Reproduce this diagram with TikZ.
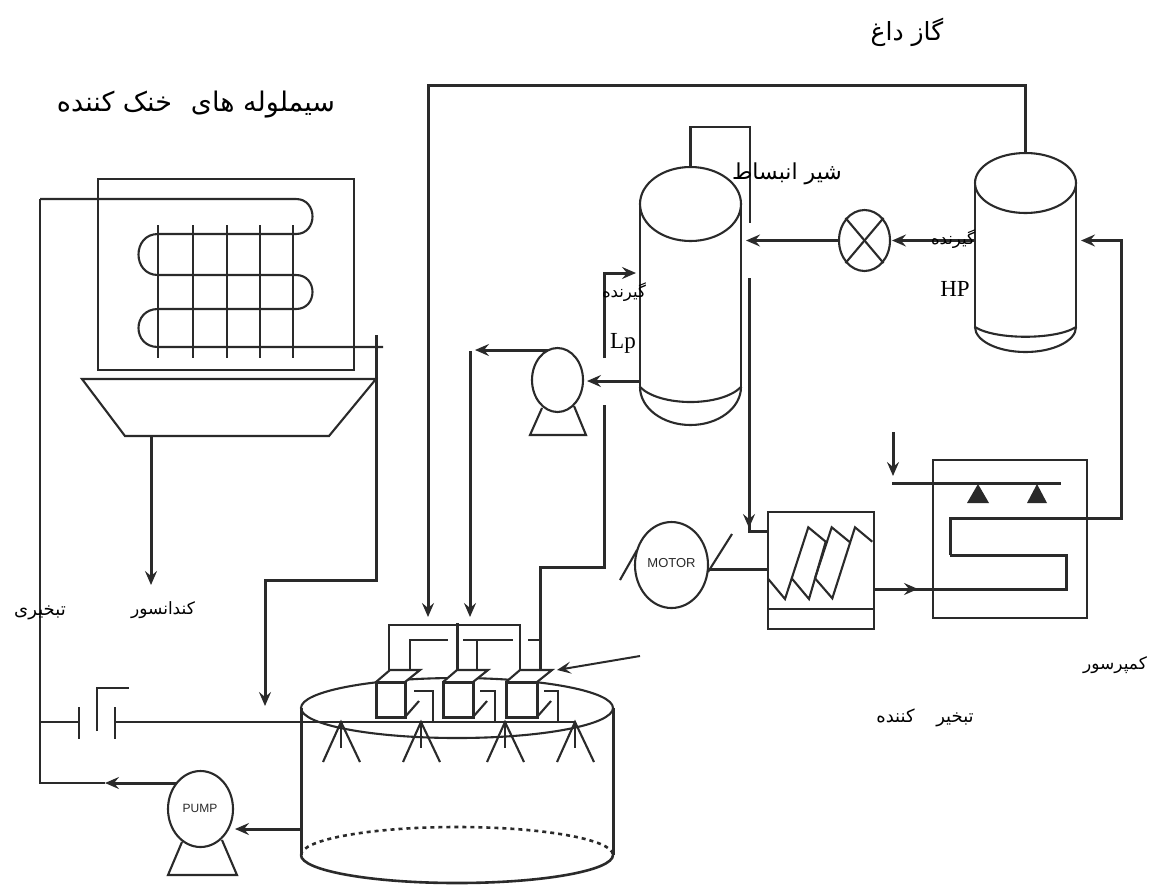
\documentclass[tikz,border=0pt]{standalone}
\usepackage{fontspec}
\usetikzlibrary{arrows.meta,shapes.geometric}
\newfontfamily\arabicfont[Script=Arabic]{DejaVu Sans}
\newfontfamily\latinserif{Liberation Serif}
\newfontfamily\latinsans{Liberation Sans}
\TeXXeTstate=1
\newcommand{\fa}[1]{{\arabicfont\beginR #1\endR}}
\newcommand{\fasize}[1]{\fontsize{#1}{#1}\selectfont}
\definecolor{ink}{HTML}{2A2A2A}
\tikzset{
  thin line/.style={draw=ink,line width=1.7pt},
  wall/.style={draw=ink,line width=2.1pt},
  pipe/.style={draw=ink,line width=3pt},
  flow/.style={pipe,-{Stealth[length=14pt,width=12pt,inset=5pt]}},
  flow small/.style={draw=ink,line width=2pt,-{Stealth[length=14pt,width=12pt,inset=6pt]}},
  round equip/.style={ellipse,draw=ink,line width=2.1pt,fill=white,inner sep=0pt,outer sep=0pt},
  fa label/.style={inner sep=0pt,text=black},
  latin label/.style={inner sep=0pt,font=\latinserif\fontsize{23}{26}\selectfont},
  equip label/.style={inner sep=0pt,font=\latinsans\fontsize{12}{14}\selectfont,text=ink},
}
\begin{document}
\begin{tikzpicture}[x=1pt,y=-1pt,line join=miter]
\useasboundingbox (0,0) rectangle (1150,884);
\fill[white] (0,0) rectangle (1150,884);

% ---- cooling coil box and drip tray
\node[draw=ink,line width=2.1pt,minimum width=256pt,minimum height=191pt,inner sep=0pt,anchor=north west] (coilbox) at (97,178) {};
\foreach \fx in {158,193,227,260,293}{\draw[thin line] (\fx,225) -- (\fx,358);}
\coordinate (coilin) at (40,199);
\coordinate (coilout) at (383,347);
\draw[wall] (coilin) -- (296,199) .. controls (318,199) and (318,234) .. (296,234)
  -- (158,234) .. controls (132,234) and (132,275) .. (158,275)
  -- (296,275) .. controls (318,275) and (318,309) .. (296,309)
  -- (158,309) .. controls (132,309) and (132,347) .. (158,347) -- (coilout);
\draw[wall] (82,379) -- (376,379) -- (329,436) -- (125,436) -- cycle;
\coordinate (trayout) at (151,436);
\coordinate (trayend) at (151,585);
\draw[flow] (trayout) -- (trayend);

% ---- return pipe into tank
\coordinate (retstart) at (376,335);
\coordinate (retend) at (265,706);
\draw[flow] (retstart) -- (376,580) -- (265,580) -- (retend);

% ---- tank
\node[round equip,minimum width=312pt,minimum height=60pt] (tanktop) at (457,708) {};
\coordinate (tankbl) at (301,855);
\coordinate (tankbr) at (613,855);
\draw[pipe] (tanktop.west) -- (tankbl);
\draw[pipe] (tanktop.east) -- (tankbr);
\draw[wall,line width=2.6pt] (tankbl) arc[start angle=180,end angle=0,x radius=156,y radius=28];
\draw[wall,line width=2.6pt,dash pattern=on 4pt off 4pt] (tankbl) arc[start angle=180,end angle=360,x radius=156,y radius=28];

% ---- three nozzle boxes
\foreach \bx/\bw in {376/29,443/30,506/31}{
  \fill[white] (\bx,682) -- (\bx+14,670) -- (\bx+14+\bw+1,670) -- (\bx+\bw,682) -- (\bx+\bw,717) -- (\bx,717) -- cycle;
  \draw[pipe] (\bx,682) rectangle (\bx+\bw,717);
  \draw[wall] (\bx,682) -- (\bx+14,670) -- (\bx+14+\bw+1,670) -- (\bx+\bw,682);
  \draw[wall] (\bx+\bw,717) -- (\bx+\bw+14,701);
}
\coordinate (spray) at (575,722);
\coordinate (capright) at (115,722);
\draw[thin line] (capright) -- (spray);
\draw[wall] (414,691) -- (433,691) -- (433,722);
\draw[wall] (480,691) -- (495,691) -- (495,722);
\draw[wall] (544,691) -- (558,691) -- (558,722);
\draw[wall] (389,670) -- (389,625) -- (520,625) -- (520,670);
\draw[pipe] (457,623) -- (457,670);
\draw[wall] (410,670) -- (410,640) -- (448,640);
\draw[wall] (463,640) -- (513,640);
\draw[wall] (477,640) -- (477,670);
\draw[wall] (528,640) -- (540,640);

% ---- spray heads
\foreach \sx in {341,421,505,575}{
  \draw[wall] (\sx-18,762) -- (\sx,722) -- (\sx+19,762);
  \draw[wall] (\sx,722) -- (\sx,748);
}

% ---- capacitor-like valve on the feed line
\coordinate (feedL) at (40,722);
\coordinate (capleft) at (79,722);
\draw[thin line] (feedL) -- (capleft);
\draw[wall] (79,707) -- (79,739);
\draw[wall] (115,707) -- (115,739);
\draw[wall] (97,731) -- (97,688) -- (129,688);

% ---- tank pump
\node[round equip,minimum width=65pt,minimum height=76pt] (pumpA) at (200.5,809) {};
\node[equip label] (pumpAtxt) at (200,808) {PUMP};
\draw[wall] (182,842) -- (168,875) -- (237,875) -- (222,840);
\coordinate (tankout) at (301,829);
\coordinate (pumpAin) at (235,829);
\draw[flow] (tankout) -- (pumpAin);
\coordinate (pumpAstart) at (176,783);
\coordinate (pumpAarrow) at (105,783);
\draw[flow] (pumpAstart) -- (pumpAarrow);
\draw[wall] (pumpAarrow) -- (40,783) -- (coilin);

% ---- pump of LP receiver
\node[round equip,minimum width=51pt,minimum height=64pt] (pumpB) at (557.5,380) {};
\draw[wall] (542,408) -- (530,435) -- (586,435) -- (574,406);
\coordinate (pumpBstart) at (548,350);
\coordinate (pumpBtip) at (475,350);
\draw[flow] (pumpBstart) -- (pumpBtip);
\coordinate (upL) at (470,351);
\coordinate (upLend) at (470,617);
\draw[flow] (upL) -- (upLend);

% ---- LP receiver
\node[draw=none,minimum width=101pt,minimum height=183pt,inner sep=0pt] (lpbody) at (690.5,295.5) {};
\draw[wall] (lpbody.north west) -- (lpbody.south west);
\draw[wall] (lpbody.north east) -- (lpbody.south east);
\node[round equip,minimum width=101pt,minimum height=74pt] (lpdome) at (690.5,204) {};
\draw[wall] (640,387) .. controls (660,407) and (721,407) .. (741,387);
\draw[wall] (640,387) arc[start angle=180,end angle=0,x radius=50.5,y radius=38];
\coordinate (stubtop) at (750,127);
\coordinate (stubend) at (750,223);
\draw[wall] (lpdome.north) |- (stubtop) -- (stubend);
\coordinate (lpout) at (640,381);
\coordinate (pumpBin) at (587,381);
\draw[flow] (lpout) -- (pumpBin);
\coordinate (lpinA) at (604,358);
\coordinate (lpinB) at (636,273);
\draw[flow] (lpinA) -- (604,273) -- (lpinB);
\coordinate (lpret) at (604,405);
\coordinate (manif) at (540,670);
\draw[pipe] (lpret) -- (604,567) -- (540,567) -- (manif);

% ---- expansion valve
\node[round equip,minimum width=51pt,minimum height=61pt] (valve) at (864.5,240.5) {};
\draw[wall] (valve.north west) ++(-1,-1) -- ([shift={(1,1)}]valve.south east);
\draw[wall] (valve.north east) ++(1,-1) -- ([shift={(-1,1)}]valve.south west);
\coordinate (lpintip) at (746,240.5);
\draw[flow] (valve.west) -- (lpintip);
\coordinate (valvetip) at (892,240.5);

% ---- HP receiver
\node[draw=none,minimum width=101pt,minimum height=142pt,inner sep=0pt] (hpbody) at (1025.5,256) {};
\draw[wall] (hpbody.north west) -- (hpbody.south west);
\draw[wall] (hpbody.north east) -- (hpbody.south east);
\node[round equip,minimum width=101pt,minimum height=60pt] (hpdome) at (1025.5,183) {};
\draw[wall] (975,327) .. controls (995,340) and (1056,340) .. (1076,327);
\draw[wall] (975,327) arc[start angle=180,end angle=0,x radius=50.5,y radius=25];
\coordinate (hpout) at (975,240.5);
\draw[flow] (hpout) -- (valvetip);
\coordinate (topcorner) at (428,85);
\coordinate (toptip) at (428,617);
\draw[flow] (hpdome.north) |- (topcorner) -- (toptip);
\coordinate (hpin) at (1081,240.5);
\coordinate (condout) at (950,555);
\draw[flow] (condout) -- (950,518.5) -- (1121,518.5) -- (1121,240.5) -- (hpin);

% ---- condenser
\node[draw=ink,line width=2.1pt,minimum width=154pt,minimum height=158pt,inner sep=0pt,anchor=north west] (condbox) at (932,459) {};
\coordinate (barL) at (892,483);
\coordinate (barR) at (1061,483);
\draw[pipe] (barL) -- (barR);
\fill[ink] (978,484) -- (967,503) -- (989,503) -- cycle;
\fill[ink] (1037,484) -- (1027,503) -- (1047,503) -- cycle;
\coordinate (spraytop) at (893,432);
\coordinate (spraytip) at (893,476);
\draw[flow] (spraytop) -- (spraytip);

% ---- compressor
\node[draw=ink,line width=2.1pt,minimum width=106pt,minimum height=117pt,inner sep=0pt,anchor=north west] (comp) at (767,511) {};
\draw[wall] (767,609) -- (873,609);
\draw[wall] (767.7,578.3) -- (785,599) -- (808.3,527.3) -- (825.7,541.7) -- (809,599) -- (791.7,578.3);
\draw[wall] (850,542.3) -- (831.7,527.3) -- (815,578.3) -- (832.3,598.3) -- (855,527.3) -- (872.3,541.7);
\coordinate (dropA) at (749,278);
\coordinate (dropB) at (767,531);
\draw[pipe] (dropA) -- (749,531) -- (dropB);
\coordinate (droptip) at (749,528);
\draw[flow] (749,505) -- (droptip);
\coordinate (compout) at (873,589);
\coordinate (comptip) at (918,589);
\draw[pipe] (compout) -- (1066,589) -- (1066,555) -- (condout);
\draw[flow] (compout) -- (comptip);

% ---- motor
\node[round equip,minimum width=73pt,minimum height=86pt] (motor) at (671.5,565) {};
\node[equip label,font=\latinsans\fontsize{13}{15}\selectfont] (motortxt) at (671.5,563) {MOTOR};
\coordinate (shaftA) at (708,569);
\coordinate (shaftB) at (767,569);
\draw[pipe] (shaftA) -- (shaftB);
\draw[wall] (620,580) -- (637,550);
\draw[wall] (708,572) -- (732,534);

% ---- free arrow to nozzles
\coordinate (airin) at (640,656);
\coordinate (airtip) at (557,670);
\draw[flow small] (airin) -- (airtip);

% ---- labels
\node[fa label,font=\fasize{25}] (t1) at (907,32) {\fa{گاز داغ}};
\node[fa label,font=\fasize{27}] (t2) at (196,105) {\fa{سیملوله های\hspace{0.7em}خنک کننده}};
\node[fa label,font=\fasize{22}] (t3) at (787,174) {\fa{شیر انبساط}};
\node[fa label,font=\fasize{16.5}] (t4) at (953,239) {\fa{گیرنده}};
\node[fa label,font=\fasize{16.5}] (t5) at (624,292) {\fa{گیرنده}};
\node[latin label] (t6) at (623,343) {Lp};
\node[latin label] (t7) at (955,289) {HP};
\node[fa label,font=\fasize{17}] (t8) at (163,610) {\fa{کندانسور}};
\node[fa label,font=\fasize{18}] (t9) at (40,613) {\fa{تبخیری}};
\node[fa label,font=\fasize{17}] (t10) at (1115,665) {\fa{کمپرسور}};
\node[fa label,font=\fasize{18}] (t11) at (925,718) {\fa{تبخیر\hspace{1.2em}کننده}};
\end{tikzpicture}
\end{document}
